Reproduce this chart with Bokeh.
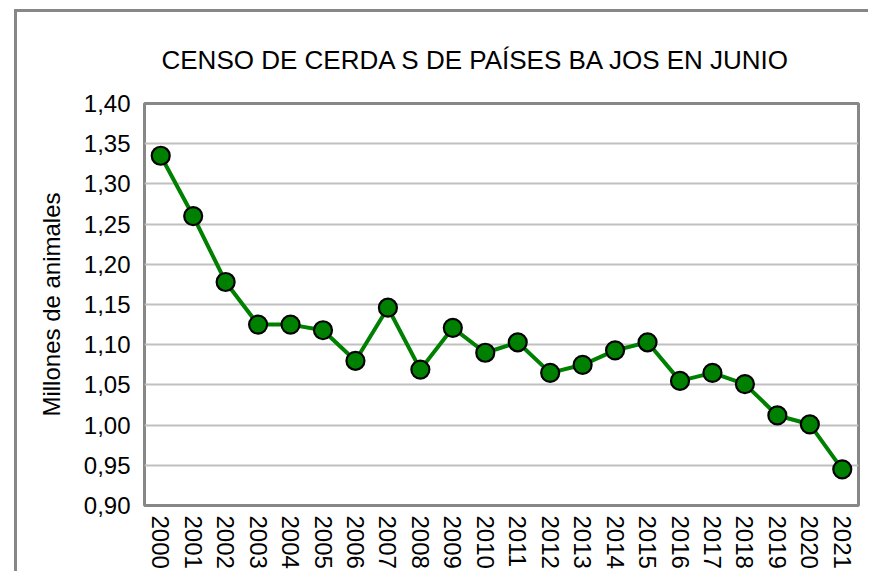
from bokeh.plotting import figure
from bokeh.models import Range1d, FixedTicker, CustomJSTickFormatter, ColumnDataSource
from bokeh.embed import file_html
from bokeh.resources import INLINE

years = [str(y) for y in range(2000, 2022)]
values = [1.335, 1.260, 1.178, 1.125, 1.125, 1.118, 1.080, 1.146, 1.069, 1.121,
          1.090, 1.103, 1.065, 1.075, 1.093, 1.103, 1.055, 1.065, 1.051, 1.012,
          1.001, 0.945]
y_ticks = [0.90, 0.95, 1.00, 1.05, 1.10, 1.15, 1.20, 1.25, 1.30, 1.35, 1.40]

title = "CENSO DE CERDA S DE PAÍSES BA JOS EN JUNIO"
y_label = "Millones de animales"

FONT = "Liberation Sans"
GREEN = "#008000"
FRAME = "#878787"

source = ColumnDataSource(data=dict(year=years, value=values))

p = figure(x_range=years, y_range=Range1d(0.90, 1.40),
           frame_width=714, frame_height=402,
           min_border_left=127, min_border_top=91, min_border_right=10, min_border_bottom=60,
           output_backend="svg", toolbar_location=None, title=title)
p.margin = (9, 0, 0, 14)
p.styles = {"border-left": f"3px solid {FRAME}", "border-top": f"3px solid {FRAME}"}

p.background_fill_color = "white"
p.border_fill_color = "white"
p.outline_line_color = FRAME
p.outline_line_width = 3

p.title.text_font = FONT
p.title.text_font_size = "26px"
p.title.text_font_style = "normal"
p.title.text_color = "black"
p.title.align = "left"
p.title.offset = 17
p.title.standoff = 58

p.line("year", "value", source=source, line_color=GREEN, line_width=4)
p.scatter("year", "value", source=source, size=18, fill_color=GREEN,
          line_color="black", line_width=2.2)

p.yaxis.ticker = FixedTicker(ticks=y_ticks)
p.yaxis.formatter = CustomJSTickFormatter(code="return tick.toFixed(2).replace('.', ',');")
p.yaxis.axis_label = y_label
p.yaxis.axis_label_text_font = FONT
p.yaxis.axis_label_text_font_size = "24px"
p.yaxis.axis_label_text_font_style = "normal"
p.yaxis.axis_label_text_color = "black"
p.yaxis.axis_label_standoff = 16

for ax in (p.xaxis, p.yaxis):
    ax.axis_line_color = None
    ax.major_tick_line_color = None
    ax.minor_tick_line_color = None
    ax.major_tick_out = 0
    ax.major_tick_in = 0
    ax.major_label_text_font = FONT
    ax.major_label_text_font_size = "24px"
    ax.major_label_text_color = "black"

p.yaxis.major_label_standoff = 14
p.xaxis.major_label_orientation = "vertical"
p.xaxis.major_label_standoff = 10

p.xgrid.grid_line_color = None
p.ygrid.grid_line_color = "#c0c0c0"
p.ygrid.grid_line_width = 2

open("out.html", "w").write(file_html(p, INLINE))
